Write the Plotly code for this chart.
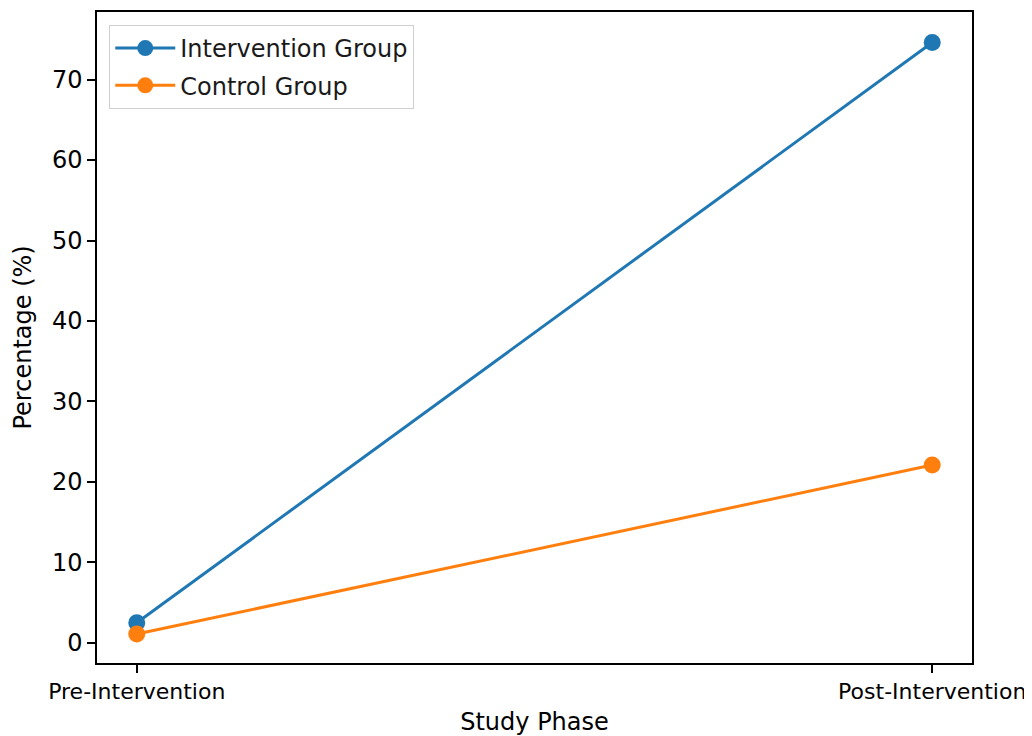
import plotly.graph_objects as go

phases = ["Pre-Intervention", "Post-Intervention"]
intervention = [2.5, 74.6]
control = [1.1, 22.1]
y_ticks = [0, 10, 20, 30, 40, 50, 60, 70]

FONT = "DejaVu Sans"
FS = 24

fig = go.Figure()
fig.add_trace(go.Scatter(
    x=phases, y=intervention, mode="lines+markers", name="Intervention Group",
    legendgroup="g1",
    line=dict(color="#1f77b4", width=3), marker=dict(size=17, color="#1f77b4")))
fig.add_trace(go.Scatter(
    x=phases, y=control, mode="lines+markers", name="Control Group",
    legendgroup="g2",
    line=dict(color="#ff7f0e", width=3), marker=dict(size=17, color="#ff7f0e")))

axis_common = dict(showline=True, mirror=True, linecolor="black", linewidth=1.5,
                   ticks="outside", ticklen=8, tickwidth=1.5, tickcolor="black",
                   showgrid=False, zeroline=False, automargin=False)

fig.update_layout(
    width=1024, height=728,
    margin=dict(l=89, r=60, t=4, b=73),
    paper_bgcolor="white", plot_bgcolor="white",
    font=dict(family=FONT, size=FS, color="black"),
    xaxis=dict(type="category", range=[-0.05, 1.05],
               tickfont=dict(family=FONT, size=22, color="black"),
               title=dict(text="Study Phase", font=dict(family=FONT, size=FS), standoff=10),
               **axis_common),
    yaxis=dict(range=[-2.5, 78.4], tickvals=y_ticks,
               tickfont=dict(family=FONT, size=FS, color="black"),
               **axis_common),
    legend=dict(x=0.014, y=0.98, xanchor="left", yanchor="top",
                bgcolor="white", bordercolor="#d0d0d0", borderwidth=1,
                itemwidth=60, tracegroupgap=3,
                font=dict(family=FONT, size=FS, color="#1a1a1a")),
    annotations=[dict(text="Percentage (%)", textangle=-90, xref="paper", yref="paper",
                      x=-0.0857, y=0.5, xanchor="center", yanchor="middle",
                      showarrow=False, font=dict(family=FONT, size=FS, color="black"))],
)

fig.write_html("out.html")
